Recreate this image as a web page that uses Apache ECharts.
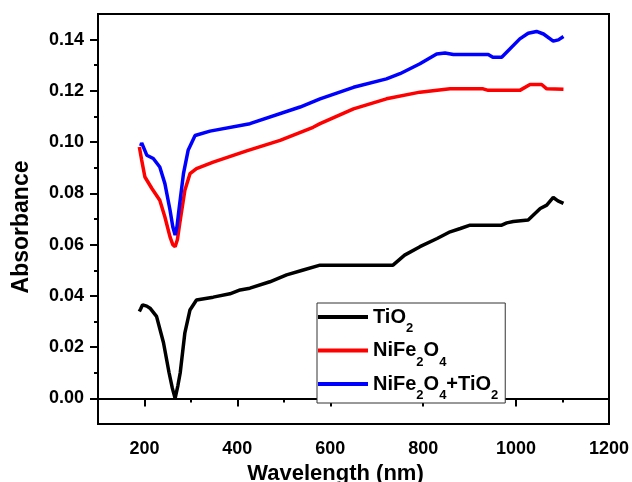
<!DOCTYPE html>
<html>
<head>
<meta charset="utf-8">
<script src="https://cdn.jsdelivr.net/npm/echarts@6/dist/echarts.min.js"></script>
<style>
  html, body { margin: 0; padding: 0; background: #fff; }
  #chart { width: 632px; height: 482px; }
</style>
</head>
<body>
<div id="chart"></div>
<script>
var seriesNames = ['TiO2', 'NiFe2O4', 'NiFe2O4+TiO2'];
var seriesColors = ['#000000', '#ff0000', '#0000ff'];

var tio2Wl = [189, 192, 196, 199, 205, 212, 226, 241, 253, 260, 266, 272, 277, 287, 298, 312, 348, 384, 406, 427, 470, 506, 540, 578, 640, 700, 735, 760, 793, 830, 858, 880, 901, 969, 980, 994, 1026, 1052, 1066, 1080, 1090, 1102];
var tio2Abs = [0.0339, 0.0350, 0.0365, 0.0369, 0.0360, 0.0352, 0.0320, 0.0217, 0.0100, 0.0040, 0.0000, 0.0050, 0.0100, 0.0256, 0.0345, 0.0384, 0.0395, 0.0408, 0.0423, 0.0430, 0.0455, 0.0482, 0.0500, 0.0520, 0.0520, 0.0520, 0.0520, 0.0559, 0.0592, 0.0624, 0.0650, 0.0663, 0.0676, 0.0676, 0.0685, 0.0690, 0.0696, 0.0741, 0.0754, 0.0784, 0.0771, 0.0761];

var nfoWl = [189, 194, 201, 216, 233, 244, 255, 261, 266, 271, 276, 287, 298, 312, 348, 420, 492, 563, 578, 650, 721, 793, 858, 929, 940, 1008, 1030, 1055, 1066, 1102];
var nfoAbs = [0.0981, 0.0930, 0.0864, 0.0819, 0.0773, 0.0708, 0.0630, 0.0600, 0.0592, 0.0620, 0.0683, 0.0812, 0.0877, 0.0897, 0.0922, 0.0966, 0.1007, 0.1058, 0.1072, 0.1130, 0.1169, 0.1195, 0.1208, 0.1208, 0.1202, 0.1202, 0.1225, 0.1225, 0.1208, 0.1206];

var mixWl = [192, 194, 205, 219, 233, 244, 255, 261, 266, 270, 275, 284, 294, 309, 341, 427, 535, 578, 650, 721, 750, 793, 829, 847, 865, 940, 950, 969, 1008, 1026, 1044, 1059, 1080, 1091, 1102];
var mixAbs = [0.0985, 0.0997, 0.0949, 0.0936, 0.0903, 0.0838, 0.0735, 0.0670, 0.0637, 0.0670, 0.0747, 0.0877, 0.0968, 0.1026, 0.1043, 0.1072, 0.1137, 0.1169, 0.1214, 0.1247, 0.1267, 0.1306, 0.1344, 0.1348, 0.1342, 0.1342, 0.1331, 0.1331, 0.1403, 0.1425, 0.1432, 0.1422, 0.1394, 0.1399, 0.1412];

var xMajor = [200, 400, 600, 800, 1000, 1200];
var xMinor = [100, 300, 500, 700, 900, 1100];
var yMajor = [0, 0.02, 0.04, 0.06, 0.08, 0.10, 0.12, 0.14];
var yMinor = [0.01, 0.03, 0.05, 0.07, 0.09, 0.11, 0.13];

function pairs(xs, ys) {
  var out = [];
  for (var i = 0; i < xs.length; i++) out.push([xs[i], ys[i]]);
  return out;
}

var font = 'Liberation Sans, Arial, sans-serif';
var chart = echarts.init(document.getElementById('chart'));

var option = {
  animation: false,
  grid: {
    left: 98, right: 23, top: 14, bottom: 58,
    show: true, borderColor: '#000', borderWidth: 2,
    outerBoundsMode: 'none'
  },
  legend: {
    left: 317, top: 303,
    orient: 'vertical',
    data: seriesNames,
    icon: 'rect',
    itemWidth: 50, itemHeight: 4,
    itemGap: 5.5,
    padding: [4, 7, 1, 1],
    borderColor: '#333', borderWidth: 1,
    backgroundColor: '#fff',
    formatter: function (name) {
      // digits become subscripts
      return '{m|' + name.replace(/(\d)/g, '}{s|$1}{m|') + '}';
    },
    textStyle: {
      rich: {
        m: { fontFamily: font, fontWeight: 'bold', fontSize: 20, color: '#000', lineHeight: 36, verticalAlign: 'middle' },
        s: { fontFamily: font, fontWeight: 'bold', fontSize: 13, color: '#000', verticalAlign: 'bottom' }
      }
    }
  },
  xAxis: [{
    type: 'value', min: 100, max: 1200, position: 'bottom',
    axisLine: { lineStyle: { color: '#000', width: 2 } },
    axisTick: { customValues: xMajor, length: 8, lineStyle: { color: '#000', width: 2 } },
    axisLabel: {
      customValues: xMajor, margin: 16, color: '#000', fontFamily: font, fontWeight: 'bold', fontSize: 18,
      formatter: function (v) { return String(v); }
    },
    splitLine: { show: false },
    name: 'Wavelength (nm)', nameLocation: 'middle', nameGap: 33,
    nameTextStyle: { fontFamily: font, fontWeight: 'bold', fontSize: 22, color: '#000', padding: [0, 36, 0, 0] }
  }, {
    type: 'value', min: 100, max: 1200, position: 'bottom',
    axisLine: { show: false },
    axisTick: { customValues: xMinor, length: 4, lineStyle: { color: '#000', width: 2 } },
    axisLabel: { show: false },
    splitLine: { show: false }
  }],
  yAxis: [{
    type: 'value', min: -0.01, max: 0.15, position: 'left',
    axisLine: { show: true, lineStyle: { color: '#000', width: 2 } },
    axisTick: { show: true, customValues: yMajor, length: 8, lineStyle: { color: '#000', width: 2 } },
    axisLabel: {
      customValues: yMajor, margin: 14, color: '#000', fontFamily: font, fontWeight: 'bold', fontSize: 18,
      formatter: function (v) { return v.toFixed(2); }
    },
    splitLine: { show: false },
    name: 'Absorbance', nameLocation: 'middle', nameGap: 65, nameRotate: 90,
    nameTextStyle: { fontFamily: font, fontWeight: 'bold', fontSize: 23, color: '#000', padding: [0, 16, 0, 0] }
  }, {
    type: 'value', min: -0.01, max: 0.15, position: 'left',
    axisLine: { show: false },
    axisTick: { show: true, customValues: yMinor, length: 4, lineStyle: { color: '#000', width: 2 } },
    axisLabel: { show: false },
    splitLine: { show: false }
  }],
  series: [
    { name: seriesNames[0], type: 'line', data: pairs(tio2Wl, tio2Abs), showSymbol: false, color: seriesColors[0], lineStyle: { width: 3.5 } },
    { name: seriesNames[1], type: 'line', data: pairs(nfoWl, nfoAbs), showSymbol: false, color: seriesColors[1], lineStyle: { width: 3.5 } },
    { name: seriesNames[2], type: 'line', data: pairs(mixWl, mixAbs), showSymbol: false, color: seriesColors[2], lineStyle: { width: 3.5 } }
  ]
};

chart.setOption(option);
</script>
</body>
</html>
